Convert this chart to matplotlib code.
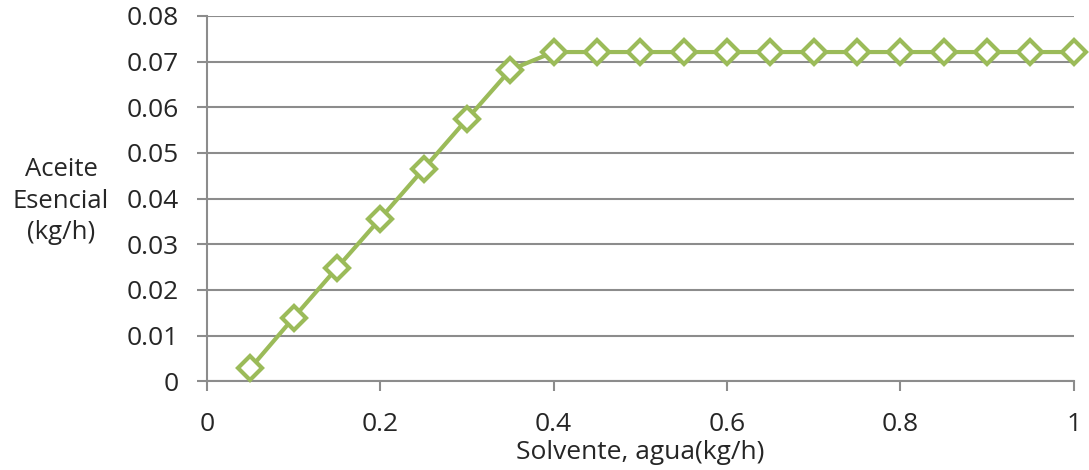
import numpy as np
import matplotlib.pyplot as plt

solvente = [0.05, 0.10, 0.15, 0.20, 0.25, 0.30, 0.35, 0.40, 0.45, 0.50,
            0.55, 0.60, 0.65, 0.70, 0.75, 0.80, 0.85, 0.90, 0.95, 1.00]
aceite = [0.0028, 0.0139, 0.0248, 0.0356, 0.0465, 0.0574, 0.0682, 0.0721,
          0.0721, 0.0721, 0.0721, 0.0721, 0.0721, 0.0721, 0.0721, 0.0721,
          0.0721, 0.0721, 0.0721, 0.0721]

plt.rcParams['font.family'] = ['Open Sans', 'DejaVu Sans']

fig = plt.figure(figsize=(10.89, 4.70), dpi=100)
ax = fig.add_axes([0.190, 0.189, 0.796, 0.777])

gris = '#8c8c8c'
texto = '#262626'
ax.plot(solvente, aceite, color='#9BBB59', lw=3, marker='D', ms=12,
        mfc='white', mec='#9BBB59', mew=3, zorder=3, clip_on=False)

ax.set_xlim(0, 1)
ax.set_ylim(0, 0.08)
ax.set_xticks(np.arange(0, 1.01, 0.2))
ax.set_xticklabels(['0', '0.2', '0.4', '0.6', '0.8', '1'])
ax.set_yticks(np.arange(0, 0.081, 0.01))
ax.set_yticklabels(['0', '0.01', '0.02', '0.03', '0.04', '0.05', '0.06', '0.07', '0.08'])
ax.yaxis.grid(True, color=gris, lw=1.5)
ax.set_axisbelow(True)

for s in ['top', 'right']:
    ax.spines[s].set_visible(False)
for s in ['left', 'bottom']:
    ax.spines[s].set_color(gris)
    ax.spines[s].set_linewidth(1.5)

ax.tick_params(axis='both', colors=gris, width=1.5, length=7, labelcolor=texto,
               labelsize=19)
ax.tick_params(axis='x', pad=15)
ax.tick_params(axis='y', pad=13)

ax.set_xlabel('Solvente, agua(kg/h)', fontsize=19, color=texto, labelpad=2)
fig.text(0.056, 0.572, 'Aceite\nEsencial\n(kg/h)', ha='center', va='center',
         fontsize=18.5, color=texto, linespacing=1.35)

fig.savefig('out.png', dpi=100)
